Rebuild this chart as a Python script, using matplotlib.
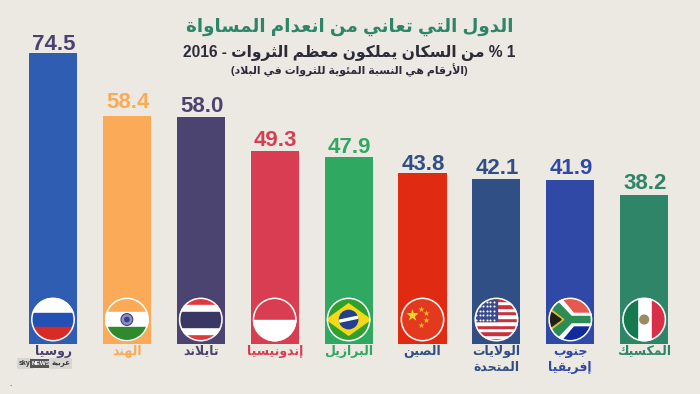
import numpy as np
import matplotlib
matplotlib.use("Agg")
import matplotlib.pyplot as plt
from matplotlib.patches import Circle, Rectangle, Polygon

# data
countries = ["روسيا", "الهند", "تايلاند", "إندونيسيا", "البرازيل", "الصين",
             "الولايات\nالمتحدة", "جنوب\nإفريقيا", "المكسيك"]
values = [74.5, 58.4, 58.0, 49.3, 47.9, 43.8, 42.1, 41.9, 38.2]
flags = ["ru", "in", "th", "id", "br", "cn", "us", "za", "mx"]
bar_colors = ["#2F5DB2", "#FBAA57", "#4C4470", "#D93D52", "#2FA862", "#E02B12",
              "#2F4F85", "#3049A6", "#2E8568"]
text_colors = ["#4A4270", "#FBAA57", "#4C4470", "#D93D52", "#2FA862", "#2F4F85",
               "#2F4F85", "#3049A6", "#2E8568"]
title = "الدول التي تعاني من انعدام المساواة"
subtitle = "1 % من السكان يملكون معظم الثروات - 2016"
note = "(الأرقام هي النسبة المئوية للثروات في البلاد)"

BG = "#ECE9E2"
# gap under each number, in px (not the same everywhere in the original)
label_gap = [3, 7.5, 5, 5, 4, 3, 5, 6.5, 5.5]

# matplotlib does no arabic shaping, so pick the presentation forms by hand
forms = {"ء": (0xFE80, 1), "آ": (0xFE81, 2), "أ": (0xFE83, 2), "ؤ": (0xFE85, 2), "إ": (0xFE87, 2),
         "ئ": (0xFE89, 4), "ا": (0xFE8D, 2), "ب": (0xFE8F, 4), "ة": (0xFE93, 2), "ت": (0xFE95, 4),
         "ث": (0xFE99, 4), "ج": (0xFE9D, 4), "ح": (0xFEA1, 4), "خ": (0xFEA5, 4), "د": (0xFEA9, 2),
         "ذ": (0xFEAB, 2), "ر": (0xFEAD, 2), "ز": (0xFEAF, 2), "س": (0xFEB1, 4), "ش": (0xFEB5, 4),
         "ص": (0xFEB9, 4), "ض": (0xFEBD, 4), "ط": (0xFEC1, 4), "ظ": (0xFEC5, 4), "ع": (0xFEC9, 4),
         "غ": (0xFECD, 4), "ف": (0xFED1, 4), "ق": (0xFED5, 4), "ك": (0xFED9, 4), "ل": (0xFEDD, 4),
         "م": (0xFEE1, 4), "ن": (0xFEE5, 4), "ه": (0xFEE9, 4), "و": (0xFEED, 2), "ى": (0xFEEF, 2),
         "ي": (0xFEF1, 4)}
lam_alef = {"ا": 0xFEFB, "أ": 0xFEF7, "إ": 0xFEF9, "آ": 0xFEF5}


def shape(txt):
    out = []
    i = 0
    n = len(txt)
    prev_joins = False
    while i < n:
        c = txt[i]
        if c not in forms:
            out.append(c)
            prev_joins = False
            i += 1
            continue
        if c == "ل" and i + 1 < n and txt[i + 1] in lam_alef:
            out.append(chr(lam_alef[txt[i + 1]] + (1 if prev_joins else 0)))
            prev_joins = False
            i += 2
            continue
        base, count = forms[c]
        next_ok = i + 1 < n and txt[i + 1] in forms
        if count == 1:
            g = base
        elif count == 2:
            g = base + (1 if prev_joins else 0)
        elif prev_joins and next_ok:
            g = base + 3
        elif next_ok:
            g = base + 2
        elif prev_joins:
            g = base + 1
        else:
            g = base
        out.append(chr(g))
        prev_joins = count == 4
        i += 1
    # right to left: flip everything, then put digit runs back
    vis = "".join(out)[::-1].translate(str.maketrans("()", ")("))
    res = ""
    run = ""
    for c in vis:
        if c.isdigit():
            run += c
        else:
            res += run[::-1] + c
            run = ""
    return res + run[::-1]


def flag_ru(a):
    a.add_patch(Rectangle((-1, 0.3), 2, 0.7, color="white"))
    a.add_patch(Rectangle((-1, -0.35), 2, 0.65, color="#2350B4"))
    a.add_patch(Rectangle((-1, -1), 2, 0.65, color="#D92B25"))


def flag_in(a):
    a.add_patch(Rectangle((-1, 0.33), 2, 0.67, color="#FBAA57"))
    a.add_patch(Rectangle((-1, -0.33), 2, 0.66, color="white"))
    a.add_patch(Rectangle((-1, -1), 2, 0.67, color="#2F8A2C"))
    a.add_patch(Circle((0, 0), 0.27, fc="#8E8FC0", ec="#3B3F8C", lw=0.8))
    a.add_patch(Circle((0, 0), 0.1, color="#3B3F8C"))


def flag_th(a):
    a.add_patch(Rectangle((-1, -1), 2, 2, color="#E0383C"))
    a.add_patch(Rectangle((-1, -0.65), 2, 1.3, color="white"))
    a.add_patch(Rectangle((-1, -0.33), 2, 0.66, color="#3B3763"))


def flag_id(a):
    a.add_patch(Rectangle((-1, 0), 2, 1, color="#D93D52"))
    a.add_patch(Rectangle((-1, -1), 2, 1, color="white"))


def flag_br(a):
    a.add_patch(Rectangle((-1, -1), 2, 2, color="#2FA02E"))
    a.add_patch(Polygon([(-1, 0), (0, 0.72), (1, 0), (0, -0.72)], color="#F4D916"))
    a.add_patch(Circle((0, 0), 0.42, color="#23408F"))
    a.add_patch(Rectangle((-0.42, -0.03), 0.84, 0.09, angle=12, rotation_point="center", color="white"))


def flag_cn(a):
    a.add_patch(Rectangle((-1, -1), 2, 2, color="#E2391F"))
    a.scatter([-0.5], [0.2], marker="*", s=85, color="#F5D52B", lw=0)
    a.scatter([-0.05, 0.15, 0.15, -0.05], [0.5, 0.3, 0.0, -0.25], marker="*", s=22, color="#F2B32B", lw=0)


def flag_us(a):
    h = 2 / 13
    for k in range(13):
        col = "#C8323C" if k % 2 == 0 else "white"
        a.add_patch(Rectangle((-1, -1 + k * h), 2, h, color=col))
    a.add_patch(Rectangle((-1, 1 - 7 * h), 1.05, 7 * h, color="#3B4A8C"))
    xs, ys = np.meshgrid(np.arange(-0.92, 0.04, 0.16), np.arange(0, 1, 0.2))
    a.scatter(xs.ravel(), ys.ravel(), s=2.2, color="white", lw=0)


def flag_za(a):
    a.add_patch(Rectangle((-1, 0), 2, 1, color="#E5574F"))
    a.add_patch(Rectangle((-1, -1), 2, 1, color="#0E2A9C"))
    a.add_patch(Polygon([(-1, 1), (-0.45, 1), (0.15, 0.28), (1, 0.28), (1, -0.28), (0.15, -0.28),
                         (-0.45, -1), (-1, -1)], color="white"))
    a.add_patch(Polygon([(-1, 0.82), (-0.6, 0.82), (0.05, 0.14), (1, 0.14), (1, -0.14), (0.05, -0.14),
                         (-0.6, -0.82), (-1, -0.82)], color="#2C8C55"))
    a.add_patch(Polygon([(-1, 0.55), (-0.3, 0), (-1, -0.55)], color="#E3B92F"))
    a.add_patch(Polygon([(-1, 0.42), (-0.42, 0), (-1, -0.42)], color="#1F1F1F"))


def flag_mx(a):
    a.add_patch(Rectangle((-1, -1), 2, 2, color="white"))
    a.add_patch(Rectangle((-1, -1), 0.66, 2, color="#15784F"))
    a.add_patch(Rectangle((0.34, -1), 0.66, 2, color="#D93048"))
    a.add_patch(Circle((0, 0), 0.2, color="#9C8A62"))


draw_flag = {"ru": flag_ru, "in": flag_in, "th": flag_th, "id": flag_id, "br": flag_br,
             "cn": flag_cn, "us": flag_us, "za": flag_za, "mx": flag_mx}

# latin and digits in Liberation, arabic falls through to DejaVu
plt.rcParams["font.family"] = ["Liberation Sans", "DejaVu Sans"]
fig = plt.figure(figsize=(7, 3.94), dpi=100, facecolor=BG)

# axes spans the figure down to the bar baseline
ax = fig.add_axes([0, (394 - 343.5) / 394, 1, 343.5 / 394])
ax.set_xlim(-0.717, 8.755)
ax.set_ylim(0, 88.1)
ax.axis("off")

pos = np.arange(len(values))
ax.bar(pos, values, width=0.65, color=bar_colors, linewidth=0)

for i, v in enumerate(values):
    ax.text(i + 0.012, v + label_gap[i] / 3.9, "%.1f" % v, ha="center", va="baseline", fontsize=16,
            fontweight="bold", color=text_colors[i])

    rx = 22.5 / 73.9
    ry = 22.5 / 3.9
    cy = 6.15
    a = ax.inset_axes([i - rx, cy - ry, 2 * rx, 2 * ry], transform=ax.transData)
    a.set_xlim(-1.03, 1.03)
    a.set_ylim(-1.03, 1.03)
    a.axis("off")
    draw_flag[flags[i]](a)
    clip = Circle((0, 0), 1, transform=a.transData)
    for art in a.patches + a.collections:
        art.set_clip_path(clip)
    a.add_patch(Circle((0, 0), 0.97, fc="none", ec="white", lw=1.1))

    lines = countries[i].split("\n")
    x_fig = (53 + 73.9 * i) / 700
    for k, ln in enumerate(lines):
        fig.text(x_fig, 1 - (351.5 + 16 * k) / 394, shape(ln), ha="center", va="center",
                 fontsize=9, fontweight="bold", color=text_colors[i])

fig.text(349.5 / 700, 1 - 27 / 394, shape(title), ha="center", va="center", fontsize=13.2,
         fontweight="bold", color="#2E8568")
fig.text(349.5 / 700, 1 - 53 / 394, shape(subtitle), ha="center", va="center", fontsize=11.2,
         fontweight="bold", color="#2B2B3A")
fig.text(349.5 / 700, 1 - 70.5 / 394, shape(note), ha="center", va="center", fontsize=7.8,
         fontweight="bold", color="#2B2B3A")

# logo
fig.text(25 / 700, 1 - 363.5 / 394, "sky", ha="center", va="center", fontsize=5, fontweight="bold",
         color="#333333", bbox=dict(fc="#D8D6D0", ec="none", pad=1.4))
fig.text(41.5 / 700, 1 - 363.5 / 394, "NEWS", ha="center", va="center", fontsize=4.6, fontweight="bold",
         color="white", bbox=dict(fc="#555555", ec="none", pad=1.4))
fig.text(60.5 / 700, 1 - 363.5 / 394, shape("عربية"), ha="center", va="center", fontsize=5,
         fontweight="bold", color="#333333", bbox=dict(fc="#D8D6D0", ec="none", pad=1.4))
fig.text(10 / 700, 1 - 384 / 394, ".", ha="center", va="center", fontsize=6, color="#222222")

fig.savefig("out.png", dpi=100, facecolor=BG)
